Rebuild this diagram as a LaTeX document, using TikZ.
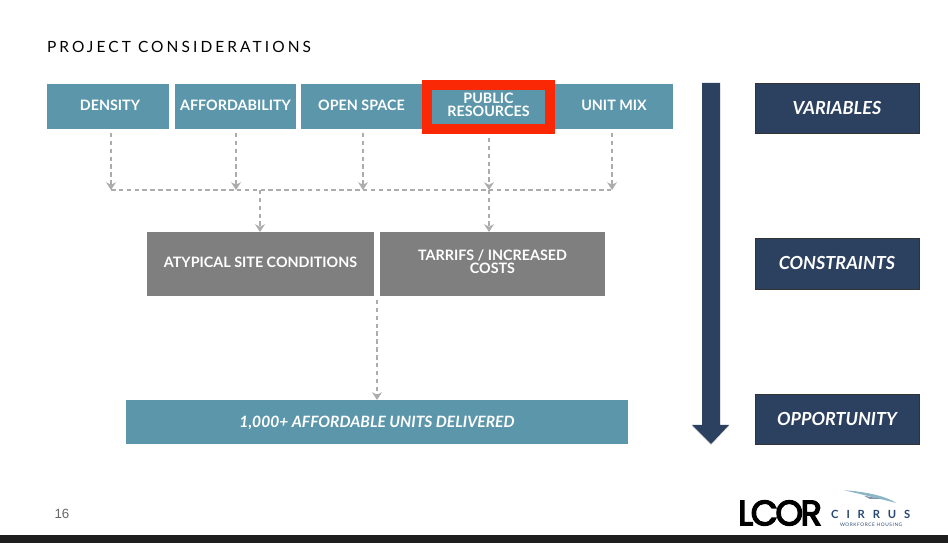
\documentclass[tikz,border=0pt]{standalone}
\usepackage{fontspec}
\setmainfont{Lato}
\newfontfamily\spacedfont[LetterSpace=20]{Lato}
\newfontfamily\logofont[LetterSpace=-7,FakeBold=4]{Poppins}
\newfontfamily\cirrusfont[LetterSpace=70]{Lato}
\newfontfamily\housingfont[LetterSpace=12]{Lato}
\newfontfamily\pagefont{Liberation Sans}
\definecolor{lcteal}{RGB}{91,150,170}
\definecolor{lcgrey}{RGB}{127,127,127}
\definecolor{lcnavy}{RGB}{44,64,96}
\definecolor{lcred}{RGB}{250,40,5}
\definecolor{lcdash}{RGB}{172,172,172}
\definecolor{lcband}{RGB}{30,30,30}
\definecolor{lcblue}{RGB}{40,70,115}
\usetikzlibrary{arrows.meta, positioning, calc, shadows}

\begin{document}
\begin{tikzpicture}[
    every node/.style={outer sep=0pt, inner sep=0pt, align=center},
    topbox/.style={fill=lcteal, text=white, minimum height=1.125cm, text depth=1.4pt, font=\fontsize{10.2}{9.3}\selectfont\bfseries},
    midbox/.style={fill=lcgrey, text=white, minimum height=1.6cm, text depth=2.8pt, font=\fontsize{10.2}{9.3}\selectfont\bfseries},
    sidebox/.style={fill=lcnavy, draw=black!80, line width=0.5pt, text=white, minimum width=4.1cm, minimum height=1.25cm,
                    font=\fontsize{12.8}{13}\selectfont\bfseries\itshape},
    flow/.style={draw=lcdash, line width=1pt, dash pattern=on 3.2pt off 2.4pt, shorten <=0.1cm,
                 -{Stealth[length=5.5pt, width=7pt]}},
    bus/.style={draw=lcdash, line width=1pt, dash pattern=on 3.2pt off 2.4pt}
]
\useasboundingbox (0,0) rectangle (23.7,13.575);
\fill[lcband] (0,0) rectangle (23.7,0.2);

\node[anchor=west, font=\fontsize{11}{11}\spacedfont] (title) at (1.175,12.4) {PROJECT CONSIDERATIONS};

% top row
\node[topbox, minimum width=3.05cm] (density) at (2.7,10.9125) {\hspace*{0.1cm}DENSITY};
\node[topbox, minimum width=3.025cm] (afford) at (5.8875,10.9125) {AFFORDABILITY};
\node[topbox, minimum width=3.025cm] (openspace) at (9.0375,10.9125) {OPEN SPACE};
\node[topbox, minimum width=2.95cm] (unitmix) at (15.35,10.9125) {UNIT MIX};
\node[topbox, draw=lcred, line width=0.25cm, minimum width=3.075cm, minimum height=1.1cm, text depth=2.8pt, outer sep=0.125cm] (pubres) at (12.2125,10.9) {PUBLIC\\RESOURCES};

% where the dashed lines meet
\coordinate (b1) at (2.775,8.825);
\coordinate (b2) at (5.9,8.825);
\coordinate (b3) at (9.075,8.825);
\coordinate (b4) at (12.225,8.825);
\coordinate (b5) at (15.3,8.825);
\coordinate (b6) at (6.5,8.825);

\node[midbox, minimum width=5.675cm] (atypical) at (6.5125,6.975) {ATYPICAL SITE CONDITIONS};
\node[midbox, minimum width=5.625cm] (tarrifs) at (12.3125,6.975) {TARRIFS / INCREASED\\COSTS};
\node[topbox, minimum width=12.55cm, minimum height=1.1cm, text depth=0pt, font=\fontsize{11.1}{11}\selectfont\bfseries\itshape] (delivered) at (9.425,3.025) {1,000+ AFFORDABLE UNITS DELIVERED};

\draw[flow] (b1 |- density.south) -- (b1);
\draw[flow] (b2 |- afford.south) -- (b2);
\draw[flow] (b3 |- openspace.south) -- (b3);
\draw[flow] (b4 |- pubres.south) -- (b4);
\draw[flow] (b5 |- unitmix.south) -- (b5);
\draw[bus] (b1) -- (b5);
\draw[flow, shorten <=0pt] (b6) -- (b6 |- atypical.north);
\draw[flow, shorten <=0pt] (b4) -- (b4 |- tarrifs.north);
\draw[flow] (delivered.north |- atypical.south) -- (delivered.north);

% right side
\fill[lcnavy, drop shadow={opacity=0.3, shadow xshift=0pt, shadow yshift=-0.8pt}] (17.55,11.5) -- (18,11.5) -- (18,2.95) -- (18.225,2.95) -- (17.775,2.475) -- (17.3,2.95) -- (17.55,2.95) -- cycle;
\node[sidebox] (variables) at (20.925,10.875) {VARIABLES};
\node[sidebox, minimum height=1.275cm] (constraints) at (20.925,6.9875) {CONSTRAINTS};
\node[sidebox] (opportunity) at (20.925,3.1) {OPPORTUNITY};

% footer
\node[text=black!60, font=\fontsize{9.5}{10}\pagefont] (pagenum) at (1.55,0.72) {16};
\node[font=\fontsize{25}{25}\logofont, anchor=west] (lcor) at (18.45,0.75) {LCOR};
\node[text=lcblue, font=\fontsize{8}{8}\bfseries\cirrusfont, anchor=west] (cirrus) at (20.78,0.72) {CIRRUS};
\node[text=lcblue, font=\fontsize{3.4}{4}\housingfont, anchor=west] (housing) at (21,0.45) {WORKFORCE HOUSING};
\fill[lcteal!70] (21.1,1.32) .. controls (21.7,1.28) and (22.2,1.15) .. (22.4,1.0) .. controls (22.1,1.08) and (21.6,1.2) .. cycle;
\fill[lcblue!60] (21.6,1.18) -- (22.05,1.1) -- (21.75,1.1) -- cycle;
\end{tikzpicture}
\end{document}
